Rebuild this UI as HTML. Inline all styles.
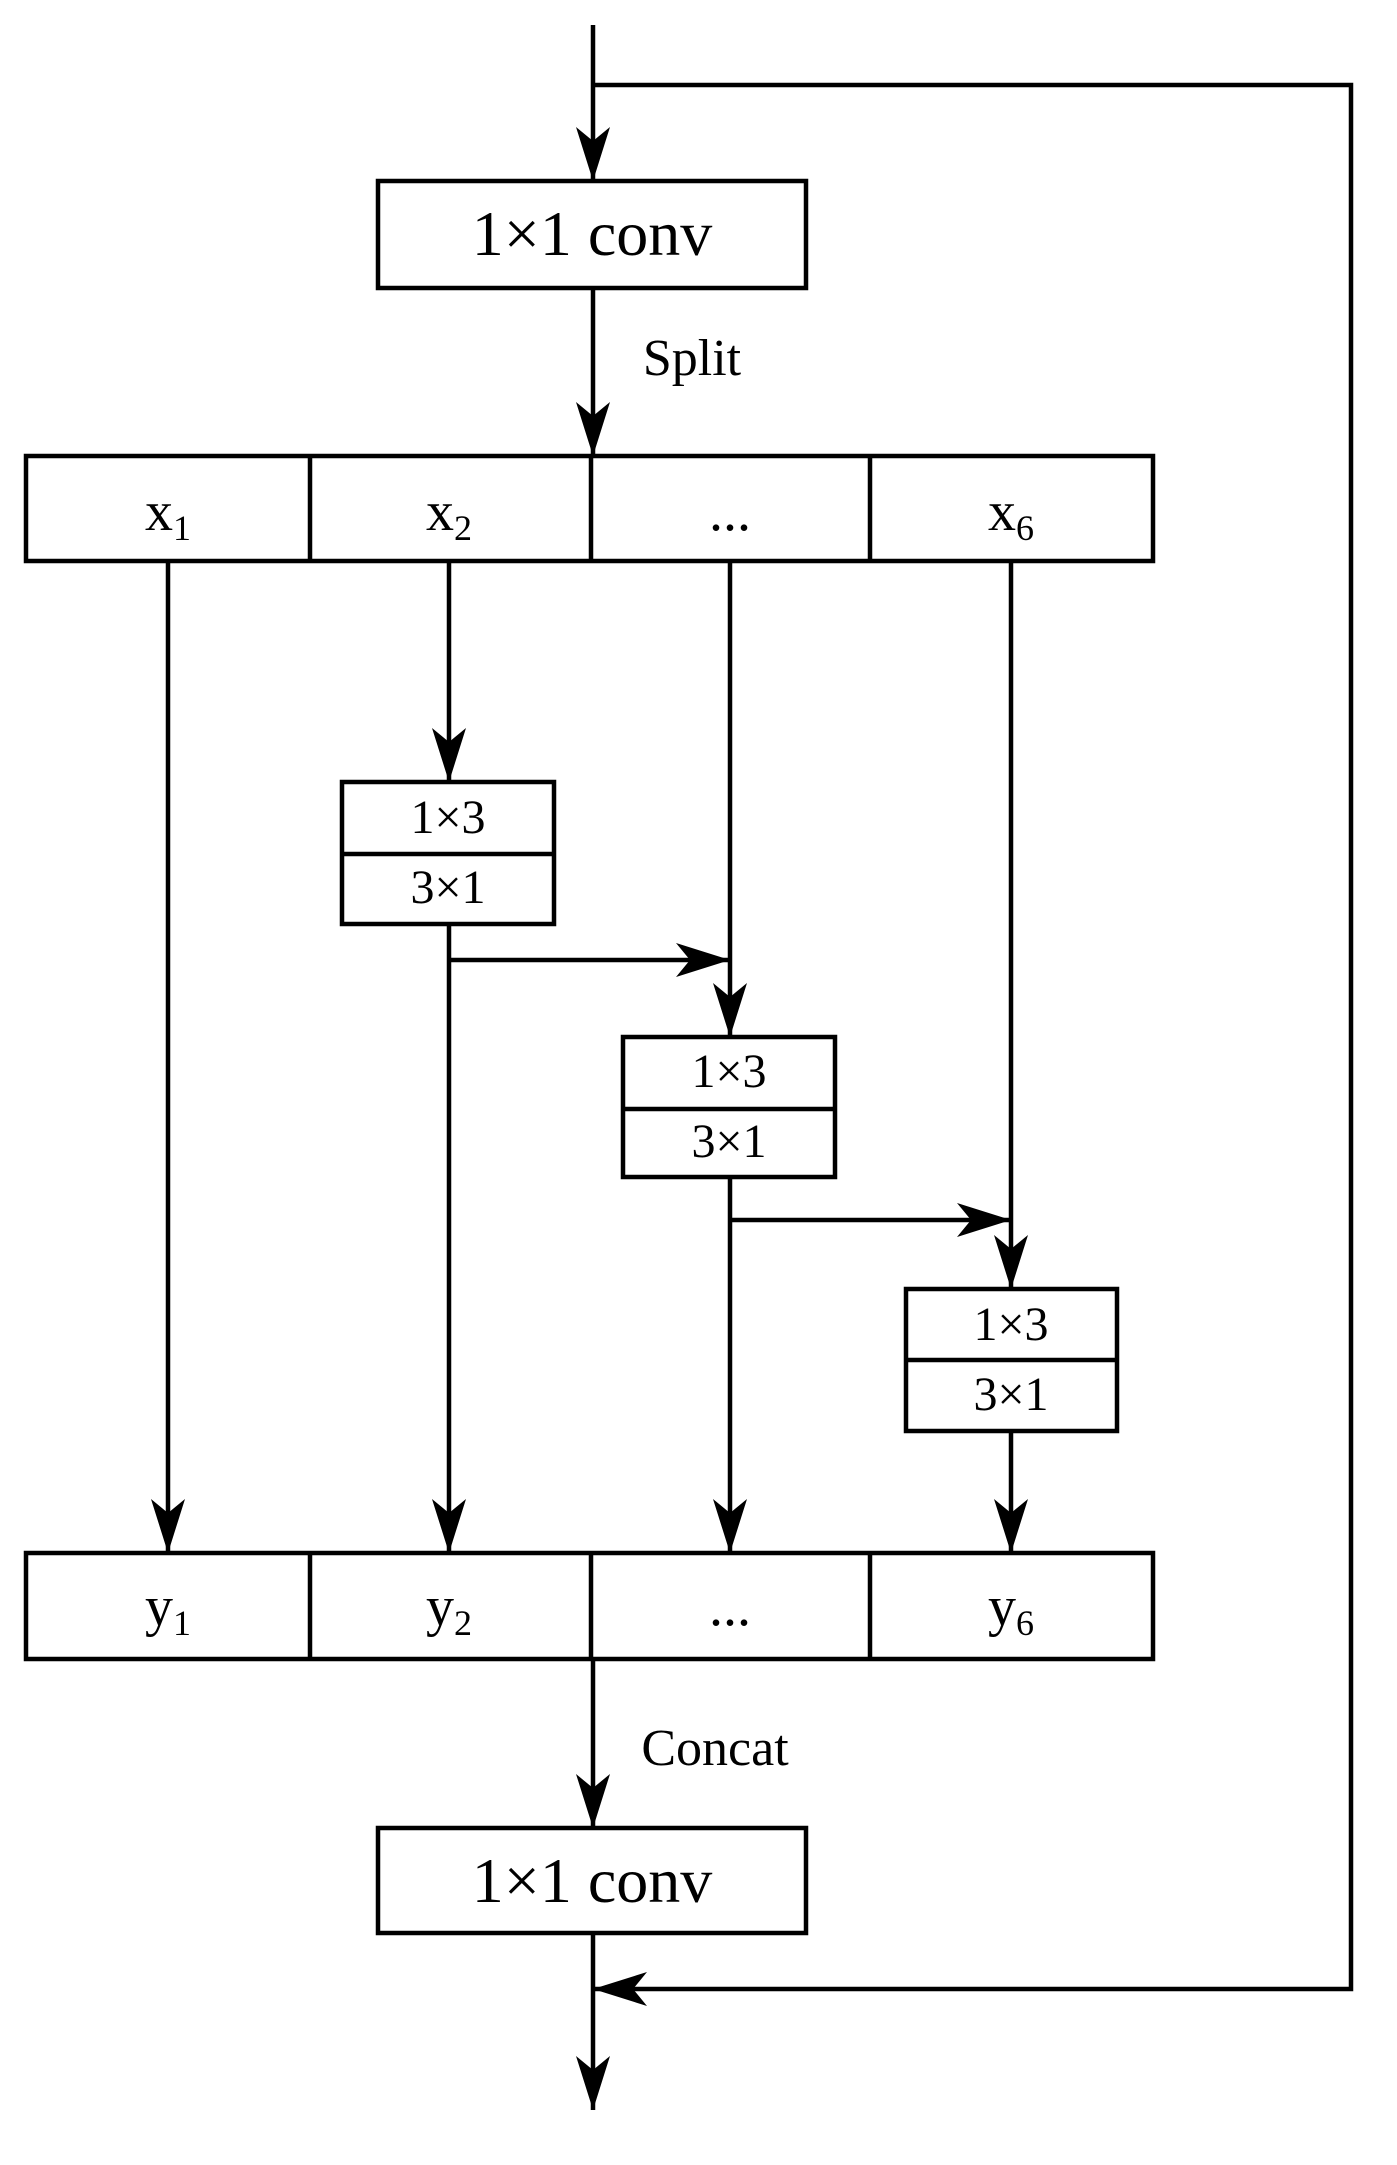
<!DOCTYPE html>
<html><head><style>html,body{margin:0;padding:0;background:#fff}svg{display:block}</style></head>
<body>
<svg width="1397" height="2165" viewBox="0 0 1397 2165" xmlns="http://www.w3.org/2000/svg" font-family="'Liberation Serif', serif">
<defs>
<marker id="a" markerWidth="56" markerHeight="34" refX="54" refY="17" orient="auto" markerUnits="userSpaceOnUse">
<path d="M0,0 L54,17 L0,34 L14,17 Z" fill="#000"/>
</marker>
</defs>
<g stroke="#000" stroke-width="4.5" fill="none">
<!-- top input -->
<line x1="593" y1="25" x2="593" y2="181" marker-end="url(#a)"/>
<polyline points="593,85 1351,85 1351,1989 593,1989" marker-end="url(#a)"/>
<!-- conv top -->
<rect x="378" y="181" width="428" height="107" fill="#fff"/>
<line x1="593" y1="288" x2="593" y2="456" marker-end="url(#a)"/>
<!-- x row -->
<rect x="26" y="456" width="1127" height="105"/>
<line x1="310" y1="456" x2="310" y2="561"/>
<line x1="591" y1="456" x2="591" y2="561"/>
<line x1="870" y1="456" x2="870" y2="561"/>
<!-- columns -->
<line x1="168" y1="561" x2="168" y2="1553" marker-end="url(#a)"/>
<line x1="449" y1="561" x2="449" y2="782" marker-end="url(#a)"/>
<line x1="730" y1="561" x2="730" y2="1037" marker-end="url(#a)"/>
<line x1="1011" y1="561" x2="1011" y2="1289" marker-end="url(#a)"/>
<!-- box1 -->
<rect x="342" y="782" width="212" height="142"/>
<line x1="342" y1="854" x2="554" y2="854"/>
<line x1="449" y1="924" x2="449" y2="1553" marker-end="url(#a)"/>
<line x1="449" y1="960" x2="730" y2="960" marker-end="url(#a)"/>
<!-- box2 -->
<rect x="623" y="1037" width="212" height="140"/>
<line x1="623" y1="1109" x2="835" y2="1109"/>
<line x1="730" y1="1177" x2="730" y2="1553" marker-end="url(#a)"/>
<line x1="730" y1="1220" x2="1011" y2="1220" marker-end="url(#a)"/>
<!-- box3 -->
<rect x="906" y="1289" width="211" height="142"/>
<line x1="906" y1="1360" x2="1117" y2="1360"/>
<line x1="1011" y1="1431" x2="1011" y2="1553" marker-end="url(#a)"/>
<!-- y row -->
<rect x="26" y="1553" width="1127" height="106"/>
<line x1="310" y1="1553" x2="310" y2="1659"/>
<line x1="591" y1="1553" x2="591" y2="1659"/>
<line x1="870" y1="1553" x2="870" y2="1659"/>
<line x1="593" y1="1659" x2="593" y2="1828" marker-end="url(#a)"/>
<!-- conv bottom -->
<rect x="378" y="1828" width="428" height="105"/>
<line x1="593" y1="1933" x2="593" y2="2110" marker-end="url(#a)"/>
</g>
<g fill="#000" text-anchor="middle">
<text x="592" y="255" font-size="64">1×1 conv</text>
<text x="592" y="1902" font-size="64">1×1 conv</text>
<text x="692" y="375" font-size="52">Split</text>
<text x="715" y="1765" font-size="52">Concat</text>
<text x="168" y="530" font-size="56">x<tspan font-size="36" dy="10">1</tspan></text>
<text x="449" y="530" font-size="56">x<tspan font-size="36" dy="10">2</tspan></text>
<text x="730" y="530" font-size="56">...</text>
<text x="1011" y="530" font-size="56">x<tspan font-size="36" dy="10">6</tspan></text>
<text x="168" y="1625" font-size="56">y<tspan font-size="36" dy="10">1</tspan></text>
<text x="449" y="1625" font-size="56">y<tspan font-size="36" dy="10">2</tspan></text>
<text x="730" y="1625" font-size="56">...</text>
<text x="1011" y="1625" font-size="56">y<tspan font-size="36" dy="10">6</tspan></text>
<text x="448" y="833" font-size="48">1×3</text>
<text x="448" y="903" font-size="48">3×1</text>
<text x="729" y="1087" font-size="48">1×3</text>
<text x="729" y="1157" font-size="48">3×1</text>
<text x="1011" y="1340" font-size="48">1×3</text>
<text x="1011" y="1410" font-size="48">3×1</text>
</g>
</svg>
</body></html>
